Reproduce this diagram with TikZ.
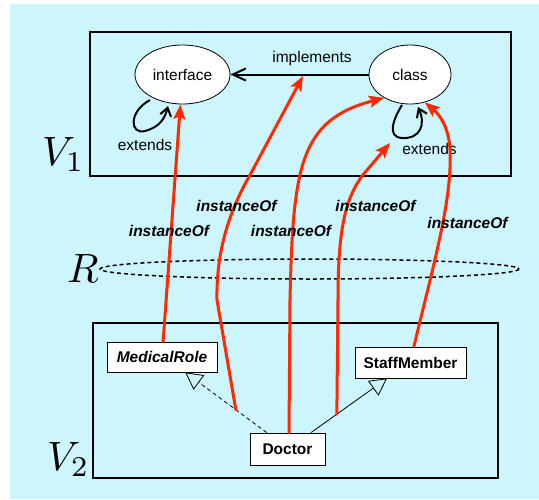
\documentclass[tikz,border=0pt]{standalone}
\usepackage{graphicx}
\usepackage{fontspec}
\setmainfont{Liberation Sans}
\usetikzlibrary{shapes.geometric,arrows.meta,calc}
\definecolor{bgc}{HTML}{CDF5FE}
\definecolor{redarr}{HTML}{FF2A00}
\begin{document}
\begin{tikzpicture}[x=1pt,y=-1pt,
  txt/.style={font=\fontsize{15.5}{18}\selectfont},
  inst/.style={font=\fontsize{15.5}{18}\selectfont\bfseries\itshape},
  bigmath/.style={inner sep=0pt,anchor=base west},
  ell/.style={ellipse,draw,fill=white,line width=0.8pt,inner sep=0pt,font=\fontsize{15.5}{18}\selectfont},
  cls/.style={rectangle,draw,fill=white,line width=0.8pt,inner sep=0pt,font=\fontsize{15.5}{18}\selectfont\bfseries},
  frm/.style={draw,line width=2pt},
  instarr/.style={draw=redarr,line width=3pt,line cap=round,-{Stealth[length=15pt,width=12pt,inset=3pt]}},
  loopline/.style={draw,line width=2pt,-{Straight Barb[length=8pt,width=11pt]}},
  gen/.style={draw,line width=0.8pt,-{Triangle[open,length=17pt,width=18pt,line width=0.8pt]}}
]
% background
\fill[white] (0,0) rectangle (539,499);
\useasboundingbox (0,0) rectangle (539,499);
\fill[bgc] (10,4) rectangle (539,499);

% frames
\draw[frm] (90,32) rectangle (511,176);
\draw[frm] (93,323) rectangle (498,478);

% labels
\node[bigmath] (v1) at (42,165) {\scalebox{4.1}{$V_1$}};
\node[bigmath] (rr) at (67,282) {\scalebox{4.1}{$R$}};
\node[bigmath] (v2) at (47,470) {\scalebox{4.1}{$V_2$}};

% dashed ellipse R
\draw[line width=1.5pt,dash pattern=on 4pt off 3pt] (309.5,269) ellipse [x radius=209.5, y radius=10];

% top level
\node[ell,minimum width=95pt,minimum height=59pt] (iface) at (182.5,74.5) {interface};
\node[ell,minimum width=82pt,minimum height=59pt] (cls) at (410,74.5) {class};

\draw[draw,line width=2pt,-{Straight Barb[length=13pt,width=12pt]}] (cls.west) -- (iface.east);
\node[txt] (impl) at (312,58) {implements};

\coordinate (il0) at (150,100);
\coordinate (il1) at (168,106);
\draw[loopline] (il0) .. controls (128,112) and (130,135) .. (145,131) .. controls (160,127) and (165,118) .. (il1);
\node[txt] (ext1) at (145,145) {extends};

\coordinate (cl0) at (402,105);
\coordinate (cl1) at (418,107);
\draw[loopline] (cl0) .. controls (394,118) and (386,137) .. (402,138) .. controls (420,139) and (426,125) .. (cl1);
\node[txt] (ext2) at (429.5,149) {extends};

% bottom level
\node[cls,minimum width=110pt,minimum height=30pt] (mr) at (162,357) {\itshape MedicalRole};
\node[cls,minimum width=111pt,minimum height=31pt] (sm) at (410.5,362.5) {StaffMember};
\node[cls,minimum width=75pt,minimum height=32pt] (doc) at (287.5,449) {Doctor};

\coordinate (dl) at ($(doc.north west)!0.227!(doc.north east)$);
\coordinate (dr) at ($(doc.north west)!0.81!(doc.north east)$);
\coordinate (mrb) at ($(mr.south west)!0.71!(mr.south east)$);
\coordinate (smb) at ($(sm.south west)!0.29!(sm.south east)$);
\draw[gen,dash pattern=on 4pt off 3pt] (dl) -- (mrb);
\draw[gen] (dr) -- (smb);

% instanceOf arrows
\coordinate (a2s) at ($(dl)!0.38!(mrb)$);
\coordinate (a4s) at ($(dr)!0.34!(smb)$);
\coordinate (implmid) at (303,76);
\coordinate (a4e) at (390,143);

\draw[instarr] ($(mr.north west)!0.51!(mr.north east)$) -- (iface.266);
\draw[instarr] (a2s) -- (217,300) .. controls (216,250) and (230,210) .. (250,175) -- (implmid);
\draw[instarr] ($(doc.north west)!0.52!(doc.north east)$) -- (290,300) .. controls (293,165) and (300,120) .. (cls.222);
\draw[instarr] (a4s) -- (338,300) .. controls (338,230) and (345,200) .. (362,176) -- (a4e);
\draw[instarr] ($(sm.north west)!0.53!(sm.north east)$) -- (424,305) .. controls (440,240) and (452,190) .. (450,150) .. controls (449,128) and (440,115) .. (cls.298);

\node[inst] (l1) at (169,231) {instanceOf};
\node[inst] (l2) at (236.5,206) {instanceOf};
\node[inst] (l3) at (291,231) {instanceOf};
\node[inst] (l4) at (375.5,206) {instanceOf};
\node[inst] (l5) at (467.5,223) {instanceOf};
\end{tikzpicture}
\end{document}
